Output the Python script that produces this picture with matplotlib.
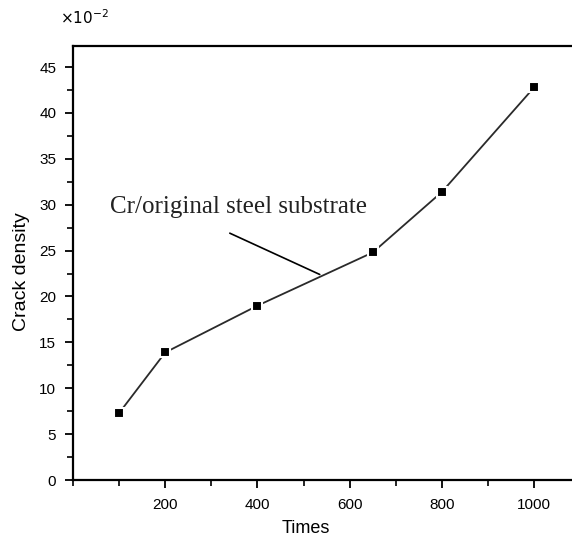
import matplotlib
matplotlib.use('Agg')
import matplotlib.pyplot as plt
from matplotlib.ticker import MultipleLocator

# data (y in units of 10^-2)
times = [100, 200, 400, 650, 800, 1000]
crack_density = [7.3, 13.9, 19.0, 24.8, 31.4, 42.8]
x_ticks = [200, 400, 600, 800, 1000]
y_ticks = [0, 5, 10, 15, 20, 25, 30, 35, 40, 45]
series_label = "Cr/original steel substrate"

plt.rcParams['font.family'] = ['Liberation Sans', 'DejaVu Sans']

fig = plt.figure(figsize=(5.72, 5.42), dpi=100)
ax = fig.add_axes([73 / 572, 62 / 542, 499 / 572, 434 / 542])

ax.plot(times, crack_density, color='#2a2a2a', lw=1.3, marker='s', ms=6.5,
        mfc='black', mec='white', mew=1.5, zorder=3)

ax.set_xlim(0, 1082)
ax.set_ylim(0, 47.3)
ax.set_xticks(x_ticks)
ax.set_yticks(y_ticks)
ax.xaxis.set_minor_locator(MultipleLocator(100))
ax.yaxis.set_minor_locator(MultipleLocator(2.5))
ax.tick_params(which='major', direction='out', length=6, width=1.3,
               labelsize=11, color='black')
ax.tick_params(axis='x', which='major', pad=7)
ax.tick_params(axis='y', which='major', pad=6)
ax.tick_params(which='minor', direction='out', length=4, width=1.2)
ax.spines['right'].set_visible(False)
for s in ['left', 'bottom', 'top']:
    ax.spines[s].set_linewidth(1.6)

ax.set_xlabel('Times', fontsize=13)
ax.xaxis.set_label_coords((306 - 73) / 499, -0.093)
ax.set_ylabel('Crack density', fontsize=14)
ax.yaxis.set_label_coords(-0.086, 0.48)
fig.text(60 / 572, 1 - 18 / 542, r'$\times10^{-2}$', fontsize=11,
         va='center', ha='left')

# label and its pointer line
ax.text(80, 29.8, series_label, fontsize=18, family='Liberation Serif',
        color='#222222', ha='left', va='center')
ax.annotate('', xy=(535, 22.4), xytext=(340, 26.9),
            arrowprops=dict(arrowstyle='-', color='black', lw=1.2,
                            shrinkA=0, shrinkB=0))

fig.savefig('out.png', dpi=100)
